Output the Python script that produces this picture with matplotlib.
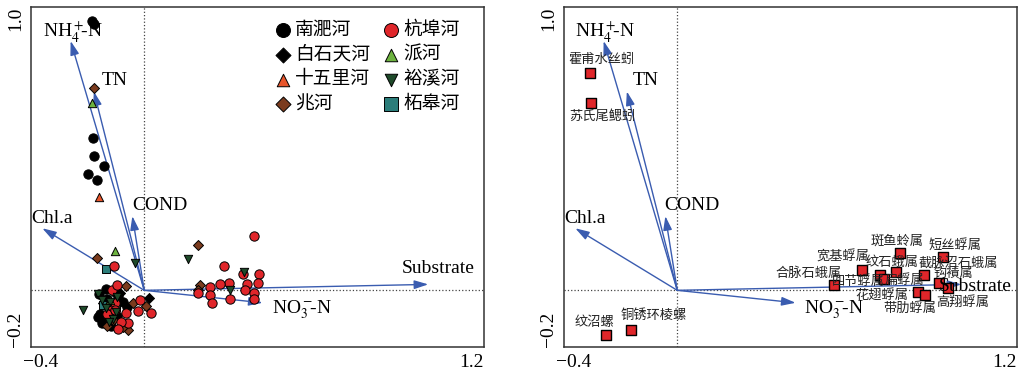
import numpy as np
import matplotlib
matplotlib.use("Agg")
import matplotlib.pyplot as plt
import matplotlib.transforms as mtransforms

plt.rcParams['font.family'] = ['Liberation Serif', 'Noto Sans CJK SC', 'DejaVu Sans']
plt.rcParams['mathtext.fontset'] = 'stix'
plt.rcParams['axes.unicode_minus'] = True

# environmental variables (biplot arrows)
env_names = ["NH$_4^+\\!\\!$-N", "TN", "COND", "Chl.a", "Substrate", "NO$_3^-\\!\\!$-N"]
env_x = [-0.26, -0.178, -0.042, -0.36, 1.003, 0.418]
env_y = [0.88, 0.702, 0.262, 0.219, 0.021, -0.044]

# sites, by river
nanfei_x = [-0.185, -0.178, -0.181, -0.176, -0.141, -0.197, -0.168, -0.135, -0.160, -0.091, -0.105,
            -0.156, -0.150, -0.165, -0.140, -0.118, -0.095, -0.075, -0.130, -0.060]
nanfei_y = [0.952, 0.940, 0.538, 0.473, 0.438, 0.410, 0.391, 0.006, -0.012, -0.021, -0.005,
            -0.082, -0.115, -0.095, -0.100, -0.125, -0.090, -0.040, -0.030, -0.060]
baishitian_x = [0.018, -0.085, -0.145]
baishitian_y = [-0.027, -0.010, -0.045]
shiwuli_x = [-0.159, -0.120]
shiwuli_y = [0.330, -0.070]
zhao_x = [-0.179, 0.190, -0.167, 0.197, 0.191, -0.064, -0.040, 0.007, -0.130, -0.056, -0.075, -0.110]
zhao_y = [0.715, 0.159, 0.115, 0.018, 0.000, 0.014, -0.045, -0.057, -0.126, -0.141, -0.130, -0.105]
zhegao_x = [-0.134, -0.145, -0.100]
zhegao_y = [0.075, -0.050, -0.060]
hangbu_x = [0.387, 0.283, 0.350, 0.405, 0.403, 0.362, 0.356, 0.388, 0.389, 0.300, 0.268, 0.233,
            0.233, 0.241, 0.303, 0.191, -0.106, -0.114, -0.121, -0.097, -0.065, -0.056, -0.082,
            -0.091, -0.103, -0.015, 0.024, -0.023, -0.130, -0.105]
hangbu_y = [0.192, 0.085, 0.059, 0.059, 0.027, 0.024, 0.000, -0.010, -0.029, 0.026, 0.021, 0.012,
            -0.018, -0.044, -0.029, -0.008, 0.086, 0.002, -0.053, 0.018, -0.079, -0.115, -0.112,
            -0.135, -0.045, -0.033, -0.079, -0.074, -0.085, -0.070]
pai_x = [-0.184, -0.103, -0.120]
pai_y = [0.660, 0.139, -0.035]
yuxi_x = [-0.033, 0.156, -0.215, 0.354, 0.303, -0.162, -0.150, -0.120, -0.100, -0.110, -0.135,
          -0.095, -0.125]
yuxi_y = [0.098, 0.112, -0.068, 0.065, 0.000, -0.012, -0.035, -0.040, -0.075, -0.100, -0.062,
          -0.025, -0.110]

# species scores
species = ["霍甫水丝蚓", "苏氏尾鳃蚓", "纹沼螺", "铜锈环棱螺", "合脉石蛾属", "宽基蜉属", "斑鱼蛉属",
           "短丝蜉属", "纹石蛾属", "四节蜉属", "扁蜉属", "截脉沼石蛾属", "钩襀属", "花翅蜉属",
           "带肋蜉属", "高翔蜉属"]
sp_x = [-0.309, -0.306, -0.253, -0.163, 0.552, 0.653, 0.787, 0.939, 0.715, 0.729, 0.771, 0.870,
        0.923, 0.851, 0.875, 0.955]
sp_y = [0.767, 0.662, -0.157, -0.139, 0.018, 0.072, 0.131, 0.118, 0.055, 0.039, 0.063, 0.055,
        0.027, -0.005, -0.015, 0.008]

# label placement
env_lab_left = [(-0.358, 0.915), (-0.150, 0.739), (-0.044, 0.30), (-0.398, 0.254), (0.909, 0.078), (0.45, -0.07)]
env_lab_right = [(-0.362, 0.912), (-0.156, 0.739), (-0.047, 0.30), (-0.40, 0.254), (0.922, 0.014), (0.447, -0.067)]
sp_off = [(8.6, 10.1), (8.6, -9.8), (-7.9, 9.1), (16.4, 10.3), (-18.2, 8.6), (-13.5, 8.9), (-2.3, 8.4),
          (8.9, 8.4), (8.9, 8.6), (-18.4, -1.9), (6.5, -6.0), (25.2, 8.6), (10.8, 6.5), (-25.9, -2.7),
          (-10.6, -10.1), (10.8, -10.1)]

arrow_col = '#3a5cb0'
cjk = ['Noto Sans CJK SC', 'DejaVu Sans']

fig = plt.figure(figsize=(10.22, 3.73), dpi=100)
ax1 = fig.add_axes([31 / 1022, 26 / 373, 453 / 1022, 340 / 373])
ax2 = fig.add_axes([564 / 1022, 26 / 373, 453 / 1022, 340 / 373])


def setup(ax):
    ax.set_xlim(-0.4, 1.2)
    ax.set_ylim(-0.2, 1.0)
    ax.axhline(0, ls=':', color='#444444', lw=0.9, zorder=1)
    ax.axvline(0, ls=':', color='#444444', lw=0.9, zorder=1)
    for s in ax.spines.values():
        s.set_color('#333333')
        s.set_linewidth(1.1)
    ax.set_xticks([-0.4, 1.2])
    ax.set_xticklabels(['\u22120.4', '1.2'], fontsize=14)
    ax.set_yticks([-0.2, 1.0])
    ax.set_yticklabels(['\u22120.2', '1.0'], fontsize=14, rotation=90)
    ax.tick_params(length=0, pad=5)
    xl = ax.get_xticklabels()
    xl[0].set_horizontalalignment('left')
    xl[0].set_transform(xl[0].get_transform() + mtransforms.ScaledTranslation(-6 / 72, 0, fig.dpi_scale_trans))
    xl[1].set_horizontalalignment('right')
    yl = ax.get_yticklabels()
    yl[0].set_verticalalignment('bottom')
    yl[1].set_verticalalignment('top')


def arrows(ax, lab_pos):
    for name, x, y, (lx, ly) in zip(env_names, env_x, env_y, lab_pos):
        ax.annotate('', xy=(x, y), xytext=(0, 0),
                    arrowprops=dict(arrowstyle='-|>,head_length=0.7,head_width=0.22',
                                    color=arrow_col, lw=1.0, shrinkA=0, shrinkB=0,
                                    mutation_scale=12), zorder=3)
        ax.text(lx, ly, name, fontsize=14, ha='left', va='center', zorder=5)


setup(ax1)
setup(ax2)
arrows(ax1, env_lab_left)

# site scatter
sites = [
    ("南淝河", nanfei_x, nanfei_y, 'o', 'black', 45),
    ("白石天河", baishitian_x, baishitian_y, 'D', 'black', 26),
    ("十五里河", shiwuli_x, shiwuli_y, '^', '#e8552b', 36),
    ("兆河", zhao_x, zhao_y, 'D', '#7b3b1e', 26),
    ("柘皋河", zhegao_x, zhegao_y, 's', '#2b7d7a', 40),
    ("杭埠河", hangbu_x, hangbu_y, 'o', '#e0262a', 45),
    ("派河", pai_x, pai_y, '^', '#6db33f', 36),
    ("裕溪河", yuxi_x, yuxi_y, 'v', '#1e4a2a', 36),
]
handles = {}
for name, xs, ys, m, c, s in sites:
    handles[name] = ax1.scatter(xs, ys, marker=m, s=s, c=c, edgecolors='black', linewidths=0.7,
                                zorder=4, label=name)

order = ["南淝河", "白石天河", "十五里河", "兆河", "杭埠河", "派河", "裕溪河", "柘皋河"]
ax1.legend([handles[n] for n in order], order, ncol=2, loc='upper left',
           bbox_to_anchor=(0.54, 0.966), frameon=False, prop={'family': cjk, 'size': 13.5},
           markerscale=1.5, handlelength=0.8, handletextpad=0.25, columnspacing=0.7,
           labelspacing=0.21, borderpad=0, borderaxespad=0, scatterpoints=1)

# species panel
arrows(ax2, env_lab_right)
ax2.scatter(sp_x, sp_y, marker='s', s=42, c='#e0262a', edgecolors='black', linewidths=1.0, zorder=4)
for name, x, y, (dx, dy) in zip(species, sp_x, sp_y, sp_off):
    ax2.annotate(name, (x, y), xytext=(dx, dy), textcoords='offset points', ha='center', va='center',
                 fontsize=9.5, family=cjk, color='#222222', zorder=6)

fig.savefig("out.png", dpi=100)
